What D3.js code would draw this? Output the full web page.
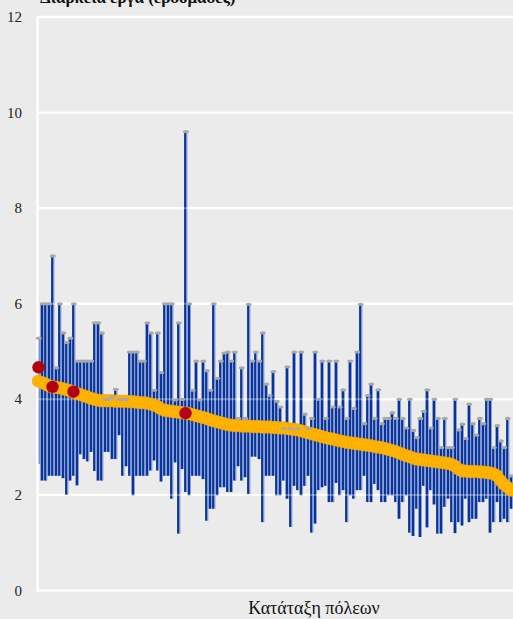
<!DOCTYPE html>
<html><head><meta charset="utf-8">
<script src="https://cdn.jsdelivr.net/npm/d3@7"></script>
<style>html,body{margin:0;padding:0;background:#ebebeb;}svg{display:block;} text{font-family:"Liberation Serif","Times New Roman",Times,serif;}</style>
</head><body>
<script>
// Tick labels
const yTicks = [0, 2, 4, 6, 8, 10, 12];
const titleText = "Διάρκεια έργα (εβδομάδες)";
const xTitle = "Κατάταξη πόλεων";

// Per-city maximum (top of bar)
const maxVals = [
5.28,6.0,6.0,6.0,7.0,4.66,6.0,5.39,5.19,5.28,6.0,4.8,4.8,4.8,4.8,4.8,5.6,5.6,5.39,4.0,4.0,4.05,4.21,4.0,4.0,4.0,4.99,
4.99,4.99,4.8,4.8,5.6,5.39,4.19,5.39,4.56,6.0,6.0,6.0,3.99,5.6,4.0,9.6,6.0,4.19,4.8,3.99,4.8,4.6,4.19,6.0,4.44,4.8,4.97,
4.99,4.8,4.99,3.6,4.66,3.6,5.99,4.8,4.99,4.8,5.39,4.32,4.08,4.58,3.96,3.84,3.39,4.68,3.39,4.99,3.39,4.99,3.69,3.39,3.6,4.99,4.0,4.8,3.6,
4.8,3.84,4.8,3.84,4.2,3.6,4.8,3.81,4.99,5.99,3.49,4.08,4.32,3.6,4.2,3.49,3.6,3.6,3.72,3.6,4.0,3.6,3.4,4.0,3.35,3.2,
3.6,3.75,4.2,3.4,4.0,3.6,2.99,3.6,2.99,2.99,4.0,3.36,3.48,3.18,3.9,3.49,3.25,3.6,3.49,4.0,4.0,2.99,3.45,3.13,2.99,3.6,2.4
];
// Per-city minimum (bottom of bar)
const minVals = [
2.65,2.3,2.3,2.4,2.4,2.4,2.4,2.35,2.0,2.3,2.4,2.2,2.85,2.75,2.7,2.9,2.5,2.3,2.3,2.9,2.9,2.75,2.75,3.25,2.4,2.6,2.4,
1.99,2.4,2.4,2.4,2.4,2.51,2.72,2.51,2.28,2.4,2.4,1.92,2.68,1.19,2.54,2.06,1.99,2.4,2.4,2.4,2.33,1.46,1.71,1.71,1.99,2.16,2.16,
2.06,2.06,2.3,2.6,2.3,2.37,2.02,2.8,2.8,2.75,1.43,2.4,2.4,2.4,1.99,1.99,2.3,1.92,1.33,2.19,2.1,1.99,2.19,2.4,1.21,1.4,2.1,2.16,2.19,
1.85,1.85,2.25,1.99,2.1,1.43,1.99,1.92,2.1,2.1,2.4,1.85,1.85,2.23,2.1,1.85,1.85,1.99,1.99,1.85,1.5,1.85,1.99,1.21,1.14,1.71,
1.12,2.19,1.32,2.1,1.8,1.19,1.19,1.75,1.92,1.43,1.2,1.43,1.36,1.92,1.43,1.5,1.5,1.85,1.85,1.92,1.21,1.43,1.85,1.43,1.5,1.43,1.71
];
// Per-city central value (orange, ranked)
const midVals = [
4.38,4.35,4.32,4.28,4.26,4.25,4.24,4.22,4.2,4.18,4.15,4.12,4.1,4.07,4.05,4.02,4.0,3.98,3.97,3.97,3.97,3.97,3.96,3.96,3.96,3.96,3.95,
3.95,3.94,3.93,3.93,3.92,3.9,3.88,3.85,3.8,3.77,3.76,3.75,3.74,3.73,3.72,3.71,3.7,3.68,3.66,3.64,3.62,3.6,3.57,3.55,3.53,3.51,3.49,
3.47,3.46,3.45,3.45,3.44,3.44,3.44,3.43,3.43,3.43,3.42,3.42,3.42,3.41,3.41,3.4,3.4,3.39,3.38,3.37,3.36,3.34,3.32,3.3,3.28,3.26,3.24,3.22,3.2,
3.18,3.17,3.15,3.13,3.12,3.1,3.09,3.08,3.07,3.06,3.05,3.04,3.03,3.01,3.0,2.99,2.97,2.95,2.93,2.91,2.88,2.85,2.82,2.8,2.77,2.75,
2.74,2.73,2.72,2.71,2.7,2.69,2.68,2.67,2.66,2.64,2.6,2.54,2.5,2.5,2.49,2.49,2.49,2.48,2.48,2.47,2.46,2.44,2.4,2.3,2.22,2.16,2.1
];
// Highlighted cities (rank index, value)
const redIdx = [0, 4, 10, 42];
const redVals = [4.67, 4.26, 4.16, 3.71];

const W = 513, H = 619;
const svg = d3.select("body").append("svg").attr("width", W).attr("height", H);
svg.append("rect").attr("width", W).attr("height", H).attr("fill", "#ebebeb");

const idx = d3.range(maxVals.length);
const x = d3.scalePoint().domain(idx).range([38.5, 511]);
const y = d3.scaleLinear().domain([0, 12]).range([590.5, 17]);

// grid
svg.append("g").selectAll("line").data(yTicks.filter(d => d > 0)).join("line")
  .attr("x1", 37).attr("x2", W).attr("y1", d => y(d)).attr("y2", d => y(d))
  .attr("stroke", "#fff").attr("stroke-width", 2.4);

// y tick labels
svg.append("g").selectAll("text").data(yTicks).join("text")
  .attr("x", 22).attr("y", d => y(d) + 5).attr("text-anchor", "end")
  .attr("font-size", 15).attr("fill", "#222")
  .text(d => d);

// bars
const bars = svg.append("g");
bars.selectAll("rect.d").data(idx).join("rect").attr("class", "d")
  .attr("x", i => x(i) - 1.4).attr("width", 2.4)
  .attr("y", i => y(maxVals[i])).attr("height", i => y(minVals[i]) - y(maxVals[i]))
  .attr("fill", "#07339b");
bars.selectAll("rect.l").data(idx).join("rect").attr("class", "l")
  .attr("x", i => x(i) + 1.0).attr("width", 0.9)
  .attr("y", i => y(maxVals[i])).attr("height", i => y(minVals[i]) - y(maxVals[i]))
  .attr("fill", "#7f98d2");

// gridline overlay
svg.append("g").selectAll("line").data(yTicks.filter(d => d > 0)).join("line")
  .attr("x1", 37).attr("x2", W).attr("y1", d => y(d)).attr("y2", d => y(d))
  .attr("stroke", "#fff").attr("stroke-width", 2).attr("opacity", 0.3);

// axis lines
svg.append("line").attr("x1", 37.5).attr("x2", 37.5).attr("y1", y(12) - 1).attr("y2", y(0))
  .attr("stroke", "#fff").attr("stroke-width", 2.5);
svg.append("line").attr("x1", 36).attr("x2", W).attr("y1", y(0)).attr("y2", y(0))
  .attr("stroke", "#fff").attr("stroke-width", 2.5);

// orange central values
svg.append("g").selectAll("circle").data(idx).join("circle")
  .attr("cx", i => x(i)).attr("cy", i => y(midVals[i])).attr("r", 6.2)
  .attr("fill", "#ffb400").attr("stroke", "#f5a500").attr("stroke-width", 0.6);

// caps at max
svg.append("g").selectAll("ellipse").data(idx).join("ellipse")
  .attr("cx", i => x(i) + 0.3).attr("cy", i => y(maxVals[i])).attr("rx", 3).attr("ry", 1.6)
  .attr("fill", "#a8a8a8");

// red highlights
svg.append("g").selectAll("circle").data(redIdx).join("circle")
  .attr("cx", (d) => x(d)).attr("cy", (d, k) => y(redVals[k])).attr("r", 6.2)
  .attr("fill", "#b3000f");

// title (cut off at top, as in the reference)
svg.append("text").attr("x", 40).attr("y", 3)
  .attr("font-weight", "bold").attr("font-size", 17)
  .attr("fill", "#111").text(titleText);

// x title
svg.append("text").attr("x", 314).attr("y", 614).attr("text-anchor", "middle")
  .attr("font-size", 18).attr("fill", "#111")
  .text(xTitle);
</script>
</body></html>
